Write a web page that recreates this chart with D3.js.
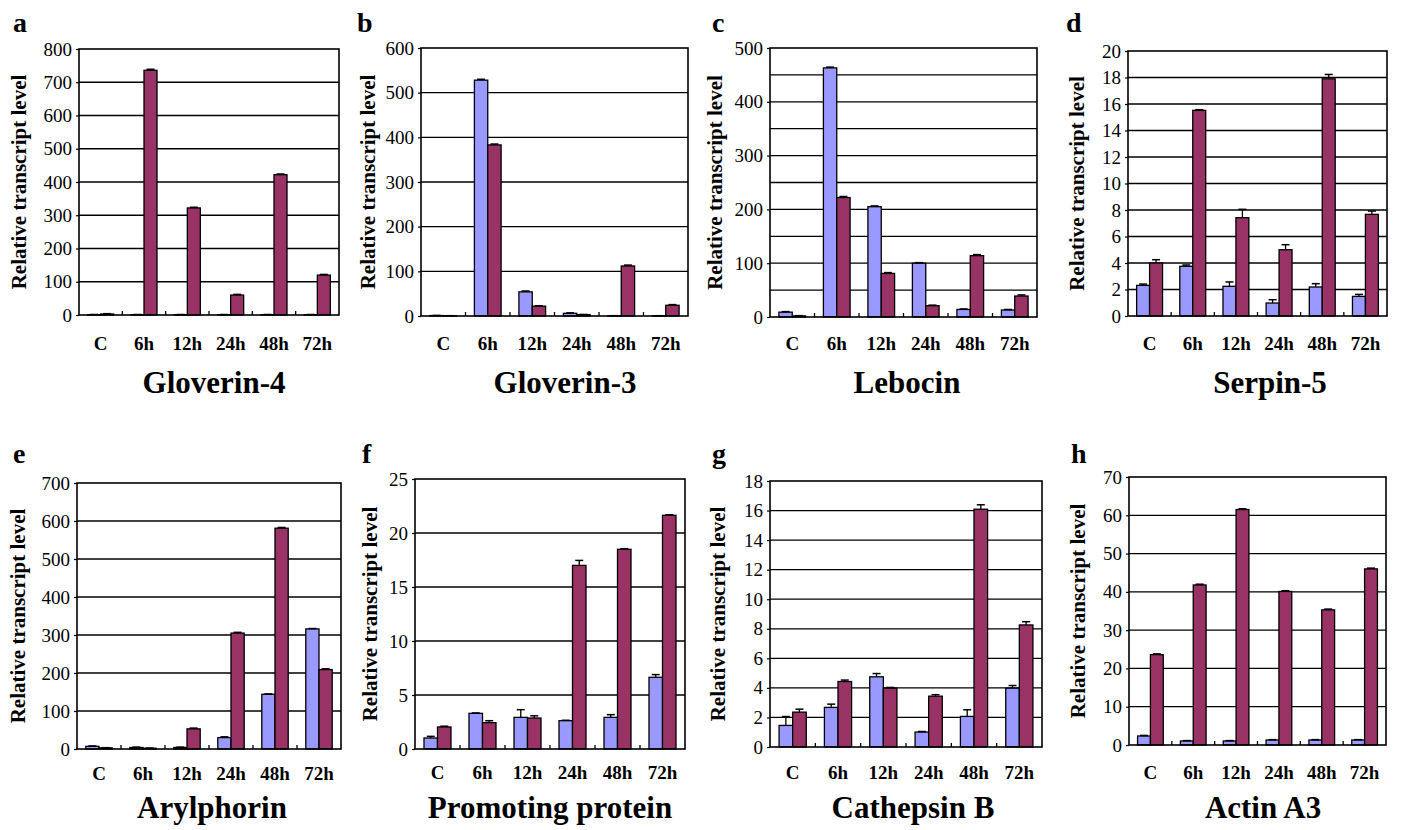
<!DOCTYPE html>
<html>
<head>
<meta charset="utf-8">
<script src="https://cdn.jsdelivr.net/npm/d3@7"></script>
<style>
  body { margin: 0; background: #fff; }
  svg { display: block; }
</style>
</head>
<body>
<div id="chart"></div>
<script>
// categories (time points)
const categories = ['C', '6h', '12h', '24h', '48h', '72h'];

// Gloverin-4
const gloverin4Blue    = [1, 1, 1, 1, 1, 1];
const gloverin4BlueErr = [0.5, 0.5, 0.5, 0.5, 0.5, 0.5];
const gloverin4Red     = [3, 736, 322, 60, 422, 120];
const gloverin4RedErr  = [1, 3, 2, 2, 2, 2];

// Gloverin-3
const gloverin3Blue    = [1, 528, 54, 6, 0.5, 0.5];
const gloverin3BlueErr = [0.3, 2, 2, 1, 0.2, 0.2];
const gloverin3Red     = [0.5, 383, 22, 3, 112, 24];
const gloverin3RedErr  = [0.2, 2, 1, 0.5, 2, 1.5];

// Lebocin
const lebocinBlue    = [9, 463, 205, 100, 14, 13];
const lebocinBlueErr = [1, 1.5, 1.5, 1, 1, 1];
const lebocinRed     = [2, 222, 81, 21, 114, 39];
const lebocinRedErr  = [0.5, 2, 1.5, 1, 2, 2];

// Serpin-5
const serpin5Blue    = [2.31, 3.75, 2.24, 0.98, 2.19, 1.48];
const serpin5BlueErr = [0.1, 0.1, 0.33, 0.25, 0.25, 0.15];
const serpin5Red     = [4.0, 15.52, 7.42, 5.0, 17.9, 7.67];
const serpin5RedErr  = [0.25, 0.05, 0.63, 0.38, 0.33, 0.25];

// Arylphorin
const arylphorinBlue    = [7, 4, 4, 30, 144, 316];
const arylphorinBlueErr = [1, 1, 1, 2, 1, 1];
const arylphorinRed     = [3, 2, 53, 305, 581, 209];
const arylphorinRedErr  = [0.5, 0.5, 2, 2, 2, 2];

// Promoting protein
const promotingBlue    = [1.02, 3.3, 2.93, 2.62, 2.93, 6.64];
const promotingBlueErr = [0.15, 0.04, 0.71, 0.04, 0.25, 0.25];
const promotingRed     = [2.04, 2.44, 2.87, 17.0, 18.49, 21.64];
const promotingRedErr  = [0.07, 0.18, 0.2, 0.46, 0.06, 0.05];

// Cathepsin B
const cathepsinBlue    = [1.46, 2.68, 4.75, 1.01, 2.07, 3.98];
const cathepsinBlueErr = [0.6, 0.22, 0.22, 0.04, 0.45, 0.18];
const cathepsinRed     = [2.36, 4.43, 3.98, 3.44, 16.09, 8.26];
const cathepsinRedErr  = [0.2, 0.1, 0.05, 0.1, 0.3, 0.22];

// Actin A3
const actinBlue    = [2.35, 1.05, 1.05, 1.3, 1.3, 1.3];
const actinBlueErr = [0.15, 0.1, 0.1, 0.1, 0.1, 0.1];
const actinRed     = [23.6, 41.8, 61.5, 40.1, 35.3, 46.0];
const actinRedErr  = [0.2, 0.2, 0.2, 0.2, 0.2, 0.2];

const colorBlue = '#9999ff';
const colorRed = '#993366';
const serif = 'Liberation Serif';

// panel layout (plot box in page pixels)
const panels = [
  { letter: 'a', title: 'Gloverin-4', blue: gloverin4Blue, blueErr: gloverin4BlueErr, red: gloverin4Red, redErr: gloverin4RedErr,
    yMax: 800, step: 100, grid: 100, left: 79, top: 49, right: 339, bottom: 315,
    letterX: 13, letterY: 32, ylabX: 26, titleX: 214, titleY: 393, catY: 350 },
  { letter: 'b', title: 'Gloverin-3', blue: gloverin3Blue, blueErr: gloverin3BlueErr, red: gloverin3Red, redErr: gloverin3RedErr,
    yMax: 600, step: 100, grid: 100, left: 421, top: 48, right: 688, bottom: 316,
    letterX: 357, letterY: 32, ylabX: 375, titleX: 565, titleY: 393, catY: 350 },
  { letter: 'c', title: 'Lebocin', blue: lebocinBlue, blueErr: lebocinBlueErr, red: lebocinRed, redErr: lebocinRedErr,
    yMax: 500, step: 100, grid: 50, left: 770, top: 48, right: 1037, bottom: 317,
    letterX: 712, letterY: 32, ylabX: 722, titleX: 907, titleY: 393, catY: 350 },
  { letter: 'd', title: 'Serpin-5', blue: serpin5Blue, blueErr: serpin5BlueErr, red: serpin5Red, redErr: serpin5RedErr,
    yMax: 20, step: 2, grid: 2, left: 1128, top: 51, right: 1387, bottom: 316,
    letterX: 1066, letterY: 32, ylabX: 1084, titleX: 1270, titleY: 393, catY: 350 },
  { letter: 'e', title: 'Arylphorin', blue: arylphorinBlue, blueErr: arylphorinBlueErr, red: arylphorinRed, redErr: arylphorinRedErr,
    yMax: 700, step: 100, grid: 100, left: 77, top: 483, right: 341, bottom: 749,
    letterX: 13, letterY: 463, ylabX: 25, titleX: 212, titleY: 818, catY: 780 },
  { letter: 'f', title: 'Promoting protein', blue: promotingBlue, blueErr: promotingBlueErr, red: promotingRed, redErr: promotingRedErr,
    yMax: 25, step: 5, grid: 5, left: 415, top: 479, right: 685, bottom: 749,
    letterX: 362, letterY: 463, ylabX: 377, titleX: 550, titleY: 818, catY: 779 },
  { letter: 'g', title: 'Cathepsin B', blue: cathepsinBlue, blueErr: cathepsinBlueErr, red: cathepsinRed, redErr: cathepsinRedErr,
    yMax: 18, step: 2, grid: 2, left: 770, top: 481, right: 1042, bottom: 747,
    letterX: 712, letterY: 463, ylabX: 725, titleX: 913, titleY: 818, catY: 779 },
  { letter: 'h', title: 'Actin A3', blue: actinBlue, blueErr: actinBlueErr, red: actinRed, redErr: actinRedErr,
    yMax: 70, step: 10, grid: 10, left: 1129, top: 477, right: 1386, bottom: 745,
    letterX: 1071, letterY: 463, ylabX: 1085, titleX: 1263, titleY: 818, catY: 779 }
];

const svg = d3.select('#chart').append('svg')
  .attr('width', 1401)
  .attr('height', 830)
  .attr('font-family', serif);

svg.append('rect').attr('width', 1401).attr('height', 830).attr('fill', '#fff');

const tickFont = 19;

panels.forEach(p => {
  const w = p.right - p.left;
  const h = p.bottom - p.top;

  const x = d3.scaleBand().domain(categories).range([0, w]);
  const sub = d3.scaleBand().domain(['blue', 'red'])
    .range([x.bandwidth() * 0.2, x.bandwidth() * 0.8]);
  const y = d3.scaleLinear().domain([0, p.yMax]).range([h, 0]);

  const g = svg.append('g').attr('transform', `translate(${p.left},${p.top})`);

  // gridlines
  g.selectAll('.grid')
    .data(d3.range(p.grid, p.yMax, p.grid))
    .enter().append('line')
    .attr('x1', 0).attr('x2', w)
    .attr('y1', d => y(d)).attr('y2', d => y(d))
    .attr('stroke', '#000').attr('stroke-width', 1.3);

  // bars
  const rows = categories.map((c, i) => ({ c: c, blue: p.blue[i], blueErr: p.blueErr[i], red: p.red[i], redErr: p.redErr[i] }));
  ['blue', 'red'].forEach(s => {
    g.selectAll('.bar-' + s)
      .data(rows)
      .enter().append('rect')
      .attr('x', d => x(d.c) + sub(s))
      .attr('y', d => y(d[s]))
      .attr('width', sub.bandwidth())
      .attr('height', d => h - y(d[s]))
      .attr('fill', s === 'blue' ? colorBlue : colorRed)
      .attr('stroke', '#000')
      .attr('stroke-width', 1.3);

    // error bars (upper only)
    const eb = g.selectAll('.err-' + s)
      .data(rows)
      .enter().append('g');
    eb.append('line')
      .attr('x1', d => x(d.c) + sub(s) + sub.bandwidth() / 2)
      .attr('x2', d => x(d.c) + sub(s) + sub.bandwidth() / 2)
      .attr('y1', d => y(d[s]))
      .attr('y2', d => y(d[s] + d[s + 'Err']))
      .attr('stroke', '#000').attr('stroke-width', 1.3);
    eb.append('line')
      .attr('x1', d => x(d.c) + sub(s) + sub.bandwidth() / 2 - 4)
      .attr('x2', d => x(d.c) + sub(s) + sub.bandwidth() / 2 + 4)
      .attr('y1', d => y(d[s] + d[s + 'Err']))
      .attr('y2', d => y(d[s] + d[s + 'Err']))
      .attr('stroke', '#000').attr('stroke-width', 1.5);
  });

  // plot frame
  g.append('rect')
    .attr('width', w).attr('height', h)
    .attr('fill', 'none')
    .attr('stroke', '#000').attr('stroke-width', 1.6);

  // tick marks between categories (pointing inward)
  g.selectAll('.xtick')
    .data(categories.slice(1))
    .enter().append('line')
    .attr('x1', d => x(d)).attr('x2', d => x(d))
    .attr('y1', h).attr('y2', h - 4)
    .attr('stroke', '#000').attr('stroke-width', 1.3);

  // y axis
  const yAxis = g.append('g')
    .call(d3.axisLeft(y)
      .tickValues(d3.range(0, p.yMax + p.step / 2, p.step))
      .tickSize(3)
      .tickPadding(4));
  yAxis.attr('font-family', serif).attr('font-size', tickFont);
  yAxis.select('.domain').remove();
  yAxis.selectAll('line').attr('stroke-width', 1.2);
  yAxis.selectAll('text')
    .attr('font-family', serif)
    .attr('font-size', tickFont);

  // x axis labels
  const xAxis = g.append('g')
    .attr('transform', `translate(0,${h})`)
    .call(d3.axisBottom(x).tickSize(0).tickPadding(p.catY - p.bottom - 0.71 * tickFont));
  xAxis.attr('font-family', serif).attr('font-size', tickFont);
  xAxis.select('.domain').remove();
  xAxis.selectAll('text')
    .attr('font-family', serif)
    .attr('font-size', tickFont)
    .attr('font-weight', 'bold');

  // y axis title
  svg.append('text')
    .attr('transform', `translate(${p.ylabX},${(p.top + p.bottom) / 2}) rotate(-90)`)
    .attr('text-anchor', 'middle')
    .attr('font-family', serif)
    .attr('font-size', 21)
    .attr('font-weight', 'bold')
    .text('Relative transcript level');

  // panel letter
  svg.append('text')
    .attr('x', p.letterX)
    .attr('y', p.letterY)
    .attr('font-family', serif)
    .attr('font-size', 28)
    .attr('font-weight', 'bold')
    .text(p.letter);

  // gene title
  svg.append('text')
    .attr('x', p.titleX)
    .attr('y', p.titleY)
    .attr('text-anchor', 'middle')
    .attr('font-family', serif)
    .attr('font-size', 31)
    .attr('font-weight', 'bold')
    .text(p.title);
});
</script>
</body>
</html>
